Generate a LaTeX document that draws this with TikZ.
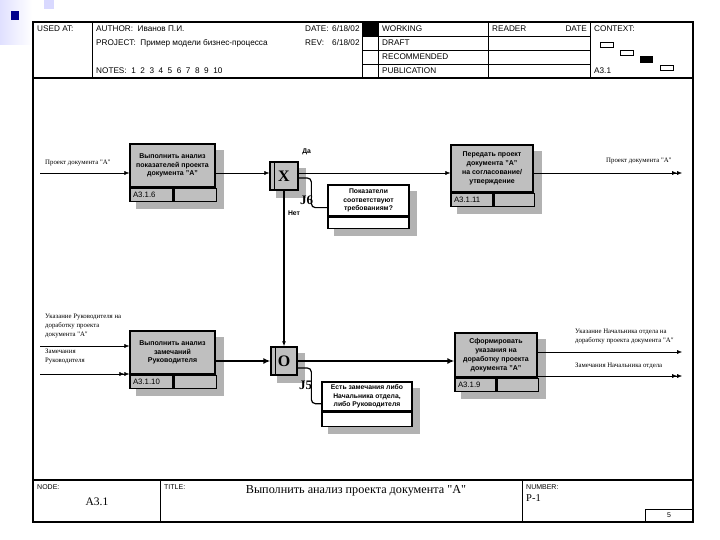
\documentclass[tikz,border=0pt]{standalone}
\usepackage{fontspec}
\setmainfont{Liberation Sans}
\newfontfamily\timesfont{Liberation Serif}
\usepackage{tikz}
\usetikzlibrary{positioning,arrows.meta,backgrounds,calc}

\begin{document}
\begin{tikzpicture}[x=1pt, y=-1pt, font=\fontsize{8.2}{10}\selectfont,
  frm/.style={line width=1.6pt},
  grid/.style={line width=0.8pt},
  hd/.style={anchor=west, inner sep=0pt},
  small/.style={hd, font=\fontsize{7}{8}\selectfont},
  shdw/.style={fill=black!30},
  act/.style={draw, line width=1.3pt, fill=black!25, align=center, inner sep=1pt,
    font=\bfseries\fontsize{7}{8.8}\selectfont},
  blank/.style={draw, line width=1.3pt, fill=black!25, anchor=north west, inner sep=0pt, minimum height=13pt},
  numcell/.style={blank, align=left, inner xsep=3pt, font=\fontsize{7.8}{9}\selectfont},
  junc/.style={draw, line width=1.3pt, fill=black!25, minimum height=28pt, inner sep=0pt,
    font=\timesfont\bfseries\fontsize{16}{16}\selectfont},
  note/.style={draw, line width=1.3pt, fill=white, align=center, inner sep=1pt,
    font=\bfseries\fontsize{6.8}{8.4}\selectfont},
  lab/.style={anchor=west, inner sep=0pt, align=left, font=\timesfont\fontsize{6.8}{9}\selectfont},
  jlab/.style={inner sep=0pt, font=\timesfont\bfseries\fontsize{13}{13}\selectfont},
  arr/.style={-{Latex[length=5pt, width=4pt]}},
  darr/.style={-{Latex[length=5pt, width=4pt] Latex[length=5pt, width=4pt]}},
  thk/.style={line width=2.4pt, -{Latex[length=7pt, width=6pt]}}]
\useasboundingbox (0,0) rectangle (720,540);

% slide corner
\shade[left color=blue!12, right color=white] (0,0) rectangle (32,45);
\fill[blue!15] (44,0) rectangle (54,9);
\fill[blue!55!black] (11,11) rectangle (19,20);

% form frame
\draw[frm] (33,22) rectangle (693,522);
\draw[frm] (33,78) -- (693,78);
\draw[frm] (33,480) -- (693,480);
\draw[grid] (92,22) -- (92,78);
\draw[grid] (362,22) -- (362,78);
\draw[grid] (378,22) -- (378,78);
\draw[grid] (488,22) -- (488,78);
\draw[grid] (590,22) -- (590,78);
\foreach \yy in {36,50,64} \draw[grid] (362,\yy) -- (590,\yy);
\fill (362,22) rectangle (378,36);
\draw[grid] (160,480) -- (160,522);
\draw[grid] (522,480) -- (522,522);
\draw[grid] (645,509) rectangle (693,522);

% header texts
\node[hd] (usedat) at (37,29) {USED AT:};
\node[hd] (author) at (96,29) {AUTHOR:~~Иванов П.И.};
\node[hd] (project) at (96,43) {PROJECT:~~Пример модели бизнес-процесса};
\node[hd] (notes) at (96,71) {NOTES:~~1~~2~~3~~4~~5~~6~~7~~8~~9~~10};
\node[hd] (datek) at (305,29) {DATE:};
\node[hd] (datev) at (332,29) {6/18/02};
\node[hd] (revk) at (305,43) {REV:};
\node[hd] (revv) at (332,43) {6/18/02};
\node[hd] (working) at (382,29) {WORKING};
\node[hd] (draft) at (382,43) {DRAFT};
\node[hd] (recom) at (382,57) {RECOMMENDED};
\node[hd] (publ) at (382,71) {PUBLICATION};
\node[hd] (reader) at (492,29) {READER};
\node[hd, anchor=east] (rdate) at (587,29) {DATE};
\node[hd] (context) at (594,29) {CONTEXT:};
\node[hd] (ctxnode) at (594,71) {A3.1};
\draw[grid] (600,42) rectangle (613,47);
\draw[grid] (620,50) rectangle (633,55);
\fill (640,56) rectangle (653,63);
\draw[grid] (660,65) rectangle (673,70);

% footer texts
\node[small] (nodek) at (37,487) {NODE:};
\node[font=\timesfont\fontsize{11.5}{12}\selectfont] (nodev) at (97,502) {A3.1};
\node[small] (titlek) at (164,487) {TITLE:};
\node[font=\timesfont\fontsize{12.2}{14}\selectfont] (titlev) at (356,491) {Выполнить анализ проекта документа "А"};
\node[small] (numk) at (526,487) {NUMBER:};
\node[hd, font=\timesfont\fontsize{10.5}{12}\selectfont] (numv) at (526,498) {P-1};
\node[font=\fontsize{7}{8}\selectfont] (pagev) at (669,515.5) {5};

% activities
\node[act, minimum width=85pt, minimum height=43pt] (a6) at (172.5,165.5) {Выполнить анализ\\показателей  проекта\\документа "А"};
\node[numcell, text width=37pt] (a6n) at (a6.south west) {A3.1.6};
\node[blank, minimum width=42pt] (a6b) at (a6n.north east) {};

\node[act, minimum width=82pt, minimum height=47pt] (a11) at (492,168.5) {Передать проект\\документа "А"\\на согласование/\\утверждение};
\node[numcell, text width=36pt] (a11n) at (a11.south west) {A3.1.11};
\node[blank, minimum width=40pt] (a11b) at (a11n.north east) {};

\node[act, minimum width=85pt, minimum height=43pt] (a10) at (172.5,352.5) {Выполнить анализ\\замечаний\\Руководителя};
\node[numcell, text width=37pt] (a10n) at (a10.south west) {A3.1.10};
\node[blank, minimum width=42pt] (a10b) at (a10n.north east) {};

\node[act, minimum width=82pt, minimum height=44pt] (a9) at (496,355) {Сформировать\\указания на\\доработку проекта\\документа "А"};
\node[numcell, text width=35pt] (a9n) at (a9.south west) {A3.1.9};
\node[blank, minimum width=41pt] (a9b) at (a9n.north east) {};

% junctions
\node[junc, minimum width=28pt] (jx) at (284,176) {X};
\draw[grid] ($(jx.north west)+(5,0)$) -- ($(jx.south west)+(5,0)$);
\node[junc, minimum width=26pt] (jo) at (284,361) {O};
\draw[grid] ($(jo.north west)+(5,0)$) -- ($(jo.south west)+(5,0)$);

% notes
\node[note, minimum width=81pt, minimum height=31pt] (n6) at (368.5,200.5) {Показатели\\соответствуют\\требованиям?};
\node[blank, fill=white, minimum width=81pt, minimum height=11pt] (n6b) at (n6.south west) {};
\node[note, minimum width=90pt, minimum height=29pt] (n5) at (367,396.5) {Есть замечания либо\\Начальника отдела,\\либо Руководителя};
\node[blank, fill=white, minimum width=90pt, minimum height=14pt] (n5b) at (n5.south west) {};

% shadows
\begin{scope}[on background layer]
\foreach \bx/\by in {a6/a6b, a11/a11b, a10/a10b, a9/a9b, n6/n6b, n5/n5b, jx/jx, jo/jo}
  \fill[shdw] ($(\bx.north west)+(7,7)$) rectangle ($(\by.south east)+(7,7)$);
\end{scope}

\draw[line width=1.2pt, rounded corners=4pt] ($(jx.east)+(0,2)$) -| ($(n6.south west)+(-16,-9)$) -- ($(n6.south west)+(0,-9)$);
\draw[line width=1.2pt, rounded corners=4pt] ($(jo.east)+(0,7)$) -| ($(n5.south west)+(-10,-8)$) -- ($(n5.south west)+(0,-8)$);

\node[jlab] (j6) at ($(jx.south east)+(8,10)$) {J6};
\node[jlab] (j5) at ($(jo.south east)+(8,10)$) {J5};
\node[font=\bfseries\fontsize{6.8}{7}\selectfont] (yes) at ($(jx.north east)+(8,-10)$) {Да};
\node[font=\bfseries\fontsize{6.8}{7}\selectfont] (no) at ($(jx.south)+(10,23)$) {Нет};

% flows
\coordinate (in1) at (40,173);
\coordinate (out1) at (682,173);
\coordinate (in2) at (40,346);
\coordinate (in3) at (40,374);
\coordinate (out2) at (682,352);
\coordinate (out3) at (682,376);
\draw[arr] (in1) -- (in1 -| a6.west);
\draw[arr] (in1 -| a6.east) -- (in1 -| jx.west);
\draw[arr] (in1 -| jx.east) -- (in1 -| a11.west);
\draw[darr] (in1 -| a11.east) -- (out1);
\draw[arr, line width=1.2pt] (jx.south) -- (jo.north);
\draw[arr] (in2) -- (in2 -| a10.west);
\draw[darr] (in3) -- (in3 -| a10.west);
\draw[thk] (jo.west -| a10.east) -- (jo.west);
\draw[thk] (jo.east) -- (jo.east -| a9.west);
\draw[arr] (out2 -| a9.east) -- (out2);
\draw[darr] (out3 -| a9.east) -- (out3);

% flow labels
\node[lab] (l1) at (45,163) {Проект документа "А"};
\node[lab] (l2) at (606,161) {Проект документа "А"};
\node[lab, anchor=north west] (l3) at (45,314) {Указание Руководителя на\\доработку проекта\\документа "А"};
\node[lab, anchor=north west] (l4) at (45,349) {Замечания\\Руководителя};
\node[lab, anchor=north west] (l5) at (575,329) {Указание Начальника отдела на\\доработку проекта документа "А"};
\node[lab] (l6) at (575,366) {Замечания Начальника отдела};
\end{tikzpicture}
\end{document}
